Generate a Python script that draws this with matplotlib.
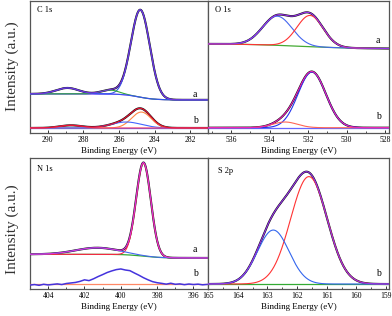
import numpy as np
import matplotlib
matplotlib.use("Agg")
import matplotlib.pyplot as plt
from matplotlib.ticker import MultipleLocator

plt.rcParams['font.family'] = ['Liberation Serif', 'DejaVu Serif']

# ---------------- data ----------------
# intensities in arbitrary units, 0 = bottom of panel, 100 = top of panel
# background: (left level, right level, step centre eV, step width eV)
# C 1s
c1s_xlim = (291.0, 281.0)
c1s_a_bg = (29.5, 25.0, 284.9, 0.45)
c1s_a_centers = [284.8, 286.5, 288.9]
c1s_a_heights = [66.0, 3.0, 4.5]
c1s_a_fwhm = [1.25, 1.2, 1.5]
c1s_a_colors = ['#3355ee', '#33aa33', '#3355ee']
c1s_b_bg = (3.8, 3.8, 285.0, 0.5)
c1s_b_centers = [284.75, 285.6, 288.7]
c1s_b_heights = [12.0, 4.5, 2.0]
c1s_b_fwhm = [1.3, 2.0, 1.5]
c1s_b_colors = ['#ff8844', '#4466ff', '#ff4466']

# O 1s
o1s_xlim = (537.2, 527.8)
o1s_a_bg = (67.4, 63.6, 532.5, 1.5)
o1s_a_centers = [533.6, 531.9]
o1s_a_heights = [22.0, 23.6]
o1s_a_fwhm = [1.8, 1.6]
o1s_a_colors = ['#4466ee', '#ff3333']
o1s_b_bg = (4.0, 4.0, 532.0, 1.0)
o1s_b_centers = [531.8, 533.2]
o1s_b_heights = [42.0, 4.3]
o1s_b_fwhm = [1.7, 1.5]
o1s_b_colors = ['#2233ee', '#ff6655']

# N 1s
n1s_xlim = (405.0, 395.2)
n1s_a_bg = (26.5, 23.7, 398.8, 0.5)
n1s_a_centers = [398.75, 401.3]
n1s_a_heights = [71.0, 5.0]
n1s_a_fwhm = [0.95, 2.8]
n1s_a_colors = ['#ff2244', '#4466ee']
n1s_b_energy = [405.0, 404.75, 404.5, 404.25, 404.0, 403.75, 403.5, 403.25,
                403.0, 402.75, 402.5, 402.25, 402.0, 401.75, 401.5, 401.25,
                401.0, 400.75, 400.5, 400.25, 400.0, 399.75, 399.5, 399.25,
                399.0, 398.75, 398.5, 398.25, 398.0, 397.75, 397.5, 397.25,
                397.0, 396.75, 396.5, 396.25, 396.0, 395.75, 395.5, 395.25]
n1s_b_counts = [3.0, 3.4, 2.8, 3.6, 3.1, 3.5, 3.9, 3.4,
                4.2, 4.6, 5.0, 5.8, 7.0, 6.4, 7.8, 9.5,
                11.0, 12.6, 13.8, 14.8, 15.3, 14.5, 14.0, 12.2,
                10.5, 8.6, 7.0, 5.6, 4.8, 4.3, 3.7, 4.4,
                3.6, 3.9, 3.3, 3.8, 3.4, 3.7, 3.2, 3.5]
n1s_b_bg_level = 3.6

# S 2p
s2p_xlim = (165.0, 158.9)
s2p_bg = (3.8, 3.8, 162.0, 1.0)
s2p_centers = [161.6, 162.8]
s2p_heights = [82.0, 41.2]
s2p_fwhm = [1.45, 1.25]
s2p_colors = ['#ff3333', '#3366ee']

# ---------------- helpers ----------------
def background(x, bg):
    left, right, c, w = bg
    return right + (left - right) / (1 + np.exp(-(x - c) / w))


def component(x, c, h, f):
    s = f / 2.3548
    return h * np.exp(-0.5 * ((x - c) / s) ** 2)


def draw_fit(ax, xlim, bg, centers, heights, fwhm, colors, env_color, bg_color):
    x = np.linspace(xlim[0], xlim[1], 600)
    b = background(x, bg)
    comps = [component(x, c, h, f) for c, h, f in zip(centers, heights, fwhm)]
    env = b + np.sum(comps, axis=0)
    ax.plot(x, env, color='#111111', lw=1.5, zorder=2)
    ax.plot(x, b, color=bg_color, lw=0.9, zorder=3)
    for cp, col in zip(comps, colors):
        ax.plot(x, b + cp, color=col, lw=0.8, zorder=3)
    ax.plot(x, env, color=env_color, lw=0.8, zorder=4)


W, H = 392, 316
fig = plt.figure(figsize=(W / 100, H / 100), dpi=100)


def make_ax(x0, x1, ytop, ybot):
    return fig.add_axes([x0 / W, (H - ybot) / H, (x1 - x0) / W, (ybot - ytop) / H])


ax_c = make_ax(30, 208, 0.5, 133)
ax_o = make_ax(208, 389, 0.5, 133)
ax_n = make_ax(30, 208, 158, 289)
ax_s = make_ax(208, 389, 158, 289)

# C 1s
draw_fit(ax_c, c1s_xlim, c1s_a_bg, c1s_a_centers, c1s_a_heights, c1s_a_fwhm,
         c1s_a_colors, '#7733dd', '#cc66ff')
draw_fit(ax_c, c1s_xlim, c1s_b_bg, c1s_b_centers, c1s_b_heights, c1s_b_fwhm,
         c1s_b_colors, '#ee1133', '#5555ee')
ax_c.set_xlim(*c1s_xlim)
ax_c.xaxis.set_major_locator(MultipleLocator(2))
ax_c.xaxis.set_minor_locator(MultipleLocator(1))

# O 1s
draw_fit(ax_o, o1s_xlim, o1s_a_bg, o1s_a_centers, o1s_a_heights, o1s_a_fwhm,
         o1s_a_colors, '#9933ee', '#44aa33')
draw_fit(ax_o, o1s_xlim, o1s_b_bg, o1s_b_centers, o1s_b_heights, o1s_b_fwhm,
         o1s_b_colors, '#ee22bb', '#6666ff')
ax_o.set_xlim(*o1s_xlim)
ax_o.xaxis.set_major_locator(MultipleLocator(2))
ax_o.xaxis.set_minor_locator(MultipleLocator(1))

# N 1s
draw_fit(ax_n, n1s_xlim, n1s_a_bg, n1s_a_centers, n1s_a_heights, n1s_a_fwhm,
         n1s_a_colors, '#dd33dd', '#33aa33')
ax_n.plot(n1s_xlim, [n1s_b_bg_level, n1s_b_bg_level], color='#ff8866', lw=0.9, zorder=3)
ax_n.plot(n1s_b_energy, n1s_b_counts, color='#4433dd', lw=1.1, zorder=4)
ax_n.set_xlim(*n1s_xlim)
ax_n.xaxis.set_major_locator(MultipleLocator(2))
ax_n.xaxis.set_minor_locator(MultipleLocator(1))

# S 2p
draw_fit(ax_s, s2p_xlim, s2p_bg, s2p_centers, s2p_heights, s2p_fwhm,
         s2p_colors, '#9933ee', '#33aa33')
ax_s.set_xlim(*s2p_xlim)
ax_s.xaxis.set_major_locator(MultipleLocator(1))
ax_s.xaxis.set_minor_locator(MultipleLocator(0.5))

for ax in (ax_c, ax_o, ax_n, ax_s):
    ax.set_ylim(0, 100)
    ax.set_yticks([])
    for sp in ax.spines.values():
        sp.set_color('#555555')
        sp.set_linewidth(0.9)
    ax.tick_params(axis='x', which='major', direction='in', length=2.5, width=0.7,
                   color='#333333', labelsize=5.5, pad=2.5)
    ax.tick_params(axis='x', which='minor', direction='in', length=1.5, width=0.6,
                   color='#333333')
    ax.set_xlabel('Binding Energy (eV)', fontsize=6.5, labelpad=2)

# panel titles
ax_c.text(0.04, 0.93, 'C 1s', transform=ax_c.transAxes, fontsize=6, va='center')
ax_o.text(0.04, 0.93, 'O 1s', transform=ax_o.transAxes, fontsize=6, va='center')
ax_n.text(0.04, 0.915, 'N 1s', transform=ax_n.transAxes, fontsize=6, va='center')
ax_s.text(0.055, 0.90, 'S 2p', transform=ax_s.transAxes, fontsize=6, va='center')

# a / b labels
lab = dict(fontsize=7, ha='center', va='center')
ax_c.text(0.927, 0.29, 'a', transform=ax_c.transAxes, **lab)
ax_c.text(0.927, 0.095, 'b', transform=ax_c.transAxes, **lab)
ax_o.text(0.94, 0.70, 'a', transform=ax_o.transAxes, **lab)
ax_o.text(0.94, 0.125, 'b', transform=ax_o.transAxes, **lab)
ax_n.text(0.927, 0.30, 'a', transform=ax_n.transAxes, **lab)
ax_n.text(0.927, 0.115, 'b', transform=ax_n.transAxes, **lab)
ax_s.text(0.94, 0.115, 'b', transform=ax_s.transAxes, **lab)

# y labels
fig.text(12 / W, (H - 66) / H, 'Intensity (a.u.)', rotation=90, fontsize=11,
         ha='center', va='center', color='#333333')
fig.text(12 / W, (H - 229) / H, 'Intensity (a.u.)', rotation=90, fontsize=11,
         ha='center', va='center', color='#333333')

fig.savefig('out.png', dpi=100)
